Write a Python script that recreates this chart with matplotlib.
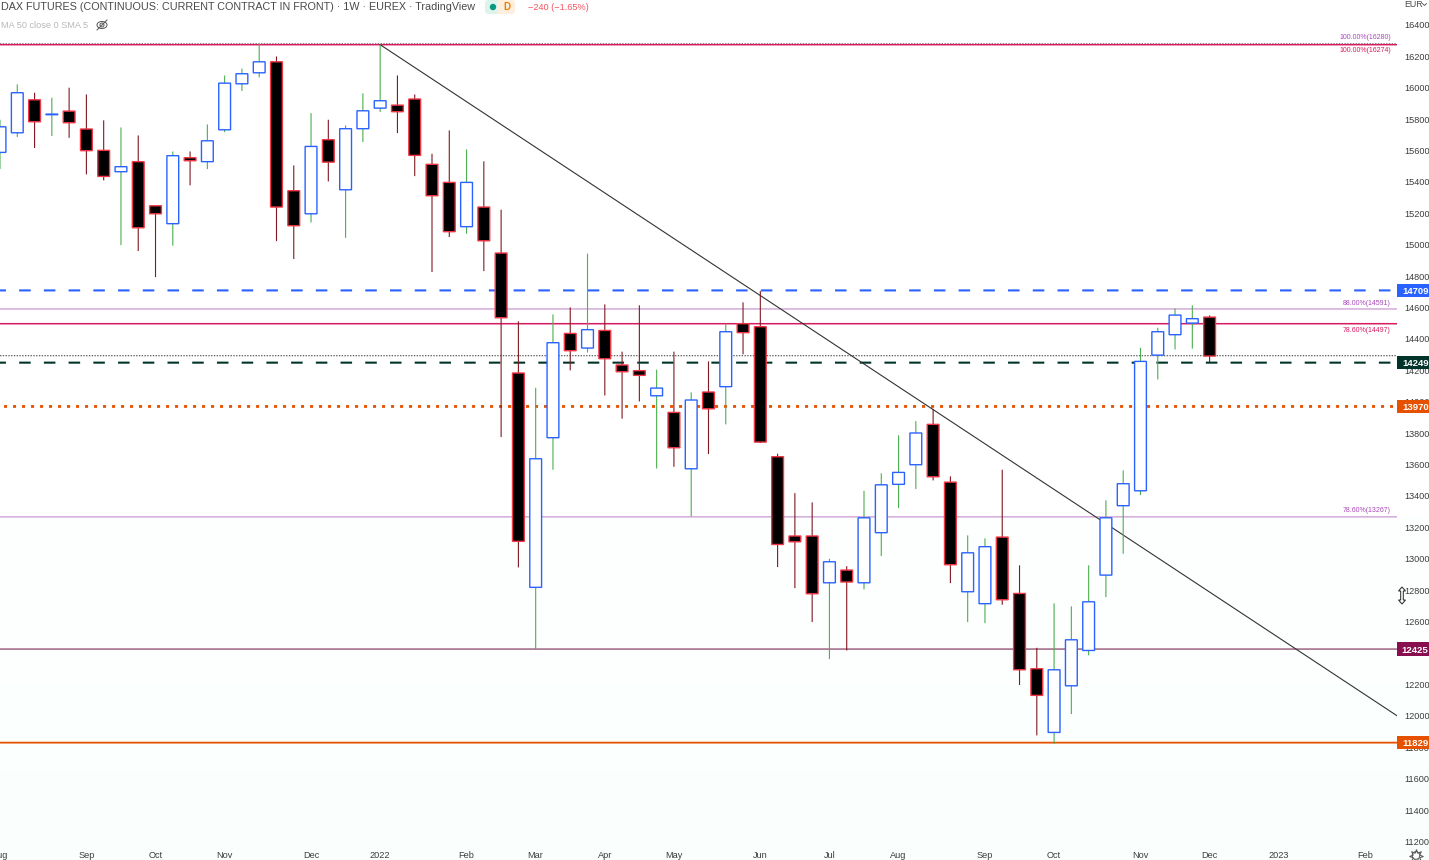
import matplotlib
matplotlib.use('Agg')
import matplotlib.pyplot as plt
import numpy as np
from matplotlib.colors import LinearSegmentedColormap
from matplotlib.patches import Rectangle, FancyBboxPatch, Ellipse, Circle, Polygon

plt.rcParams['font.family'] = ['Liberation Sans', 'DejaVu Sans']
plt.rcParams['lines.scale_dashes'] = False

# weekly candles, one entry per week
opens = [15588, 15713, 15923, 15828, 15851, 15737, 15601, 15465, 15529, 15248,
         15134, 15554, 15529, 15732, 16025, 16095, 16165, 15344, 15197, 15669,
         15350, 15739, 15870, 15889, 15928, 15512, 15397, 15115, 15240, 14947,
         14183, 12818, 13771, 14435, 14342, 14454, 14234, 14198, 14038, 13932,
         13573, 14062, 14096, 14497, 14478, 13650, 13145, 13145, 12847, 12928,
         12847, 13166, 13474, 13599, 13856, 13488, 12790, 12714, 13138, 12779,
         12300, 11894, 12191, 12416, 12896, 13338, 13433, 14297, 14427, 14501,
         14539]
highs = [15796, 16021, 15968, 15936, 16000, 15957, 15792, 15747, 15696, 15248,
         15594, 15594, 15766, 16078, 16121, 16280, 16199, 15505, 15838, 15796,
         15760, 15964, 16274, 16078, 15957, 15579, 15728, 15607, 15531, 15223,
         14512, 14089, 14556, 14601, 14943, 14620, 14319, 14614, 14204, 14319,
         14060, 14257, 14497, 14633, 14705, 13669, 13418, 13359, 13000, 12953,
         13433, 13544, 13786, 13877, 13955, 13525, 13149, 13130, 13567, 12958,
         12433, 12716, 12697, 12958, 13372, 13563, 14344, 14471, 14594, 14614,
         14550]
lows = [15482, 15686, 15616, 15692, 15681, 15448, 15410, 14998, 14960, 14794,
        14994, 15378, 15482, 15717, 15979, 16066, 15023, 14909, 15142, 15403,
        15044, 15654, 15845, 15711, 15437, 14826, 15049, 15070, 14832, 13775,
        12945, 12425, 13567, 14200, 14314, 14040, 13892, 14002, 13575, 13586,
        13270, 13667, 13856, 14302, 13737, 12947, 12813, 12597, 12361, 12416,
        12805, 13017, 13323, 13444, 13499, 12845, 12597, 12590, 12707, 12196,
        11875, 11822, 12011, 12385, 12756, 13032, 13406, 14142, 14333, 14338,
        14251]
closes = [15751, 15968, 15783, 15832, 15777, 15599, 15435, 15497, 15108, 15197,
          15567, 15535, 15662, 16029, 16089, 16165, 15240, 15121, 15626, 15526,
          15739, 15853, 15917, 15847, 15569, 15312, 15083, 15397, 15025, 14535,
          13111, 13637, 14376, 14325, 14459, 14274, 14191, 14168, 14087, 13707,
          14011, 13955, 14446, 14440, 13743, 13091, 13108, 12777, 12981, 12852,
          13261, 13471, 13550, 13801, 13522, 12962, 13038, 13077, 12739, 12293,
          12130, 12293, 12484, 12726, 13261, 13478, 14257, 14446, 14552, 14529,
          14291]

month_pos = [0, 5, 9, 13, 18, 22, 27, 31, 35, 39, 44, 48, 52, 57, 61, 66, 70, 74, 79]
month_labels = ['Aug', 'Sep', 'Oct', 'Nov', 'Dec', '2022', 'Feb', 'Mar', 'Apr', 'May',
                'Jun', 'Jul', 'Aug', 'Sep', 'Oct', 'Nov', 'Dec', '2023', 'Feb']
price_ticks = list(range(11200, 16600, 200))

trend_x = [22, 80.85]
trend_y = [16274, 12000]

fib_levels = [16280, 16274, 14591, 14497, 13267]
fib_names = ['100.00%(16280)', '100.00%(16274)', '88.00%(14591)', '78.60%(14497)', '78.60%(13267)']

tags = [14709, 14249, 13970, 12425, 11829]
tag_colors = ['#2962ff', '#00332a', '#e65100', '#880e4f', '#e65100']

W, H = 1429, 860
fig = plt.figure(figsize=(W / 100, H / 100), dpi=100, facecolor='white')

# faint background fade
bg = fig.add_axes([0, 0, 1, 1], zorder=-1)
fade = LinearSegmentedColormap.from_list('fade', ['#ffffff', '#ffffff', '#fafffe'])
bg.imshow(np.linspace(0, 1, 200).reshape(-1, 1), aspect='auto', cmap=fade)
bg.axis('off')

px_right, px_bottom = 1397, 846
ax = fig.add_axes([0, 1 - px_bottom / H, px_right / W, px_bottom / H])
ax.patch.set_visible(False)
for s in ax.spines.values():
    s.set_visible(False)

per_px = 200 / 31.404
ax.set_xlim(0, 1397 / 17.28)
ax.set_ylim(16400 - (846 - 24.9) * per_px, 16400 + 24.9 * per_px)


def hline(price, **kw):
    ln = ax.axhline(price, **kw)
    ln.set_snap(False)
    return ln


hline(16280, color='#555555', lw=0.6, ls=(0, (1.0, 1.0)), zorder=1)
hline(16274, color='#d81b60', lw=1.1, zorder=1.1)
hline(14709, color='#2962ff', lw=1.5, ls=(4.0, (8.3, 9.5)), zorder=1)
hline(14591, color='#cfa3d6', lw=1.0, zorder=1)
hline(14497, color='#d81b60', lw=1.1, zorder=1)
hline(14293, color='#333333', lw=0.7, ls=(0, (1.0, 1.0)), zorder=1)
hline(14249, color='#00332a', lw=1.5, ls=(4.0, (8.3, 9.5)), zorder=1)
hline(13970, color='#e65100', lw=2.0, ls=(-2.9, (2.2, 4.28)), zorder=1)
hline(13267, color='#cfa3d6', lw=1.0, zorder=1)
hline(12425, color='#7b2a55', lw=0.8, zorder=1)
hline(11829, color='#e65100', lw=1.3, zorder=1)

ax.plot(trend_x, trend_y, color='#333333', lw=0.8, zorder=2)

# candles sit on top of every drawing
for i in range(len(opens)):
    up = closes[i] >= opens[i]
    wick = ax.vlines(i, lows[i], highs[i], color='#4caf50' if up else '#801922', lw=0.8, zorder=3)
    wick.set_snap(False)
    bottom = min(opens[i], closes[i])
    height = abs(closes[i] - opens[i])
    bar = ax.bar(i, height, width=11.8 / 17.28, bottom=bottom,
                 facecolor='white' if up else 'black',
                 edgecolor='#2962ff' if up else '#f23645', linewidth=1.0, zorder=4)
    bar[0].set_snap(False)

ax.set_xticks(month_pos)
ax.set_xticklabels(month_labels)
ax.yaxis.tick_right()
ax.set_yticks(price_ticks)
ax.tick_params(axis='both', length=0, labelsize=6.6, labelcolor='#3c3c3c')
ax.tick_params(axis='x', pad=3.8)
ax.tick_params(axis='y', pad=5.4)

# price tags on the scale
yt = ax.get_yaxis_transform()
for v, c in zip(tags, tag_colors):
    ax.add_patch(Rectangle((1, v - 42), 32 / 1397, 84, transform=yt, facecolor=c,
                           edgecolor='none', clip_on=False, zorder=8))
    ax.text(1 + 31.5 / 1397, v, str(v), transform=yt, ha='right', va='center_baseline',
            color='white', fontsize=6.8, fontweight='bold', clip_on=False, zorder=9)

label_x = 1 - 6 / 1397
label_offs = [6 * per_px, -6 * per_px, 5.5 * per_px, -6.5 * per_px, 6 * per_px]
label_cols = ['#ab47bc', '#d81b60', '#ab47bc', '#d81b60', '#ab47bc']
for v, name, off, c in zip(fib_levels, fib_names, label_offs, label_cols):
    ax.text(label_x, v + off, name, transform=yt, ha='right', va='center',
            fontsize=5.0, color=c, zorder=6)

# header and small chart furniture, in pixel coordinates
top = fig.add_axes([0, 0, 1, 1], zorder=5)
top.set_xlim(0, W)
top.set_ylim(H, 0)
top.axis('off')
top.patch.set_visible(False)

top.text(1, 7, 'DAX FUTURES (CONTINUOUS: CURRENT CONTRACT IN FRONT) · 1W · EUREX · TradingView',
         fontsize=7.75, color='#4a4a4a', ha='left', va='center')
top.text(1, 25, 'MA 50 close 0 SMA 5', fontsize=6.6, color='#b8b8b8', ha='left', va='center')

top.add_patch(Ellipse((102, 25), 10, 7, facecolor='none', edgecolor='#555555', lw=0.7))
top.add_patch(Circle((102, 25), 2, facecolor='none', edgecolor='#555555', lw=0.7))
top.plot([97, 107], [30, 20], color='#555555', lw=0.7)

top.add_patch(FancyBboxPatch((488, 3), 12, 8, boxstyle='round,pad=3', facecolor='#dff3ed', edgecolor='none'))
top.add_patch(FancyBboxPatch((500, 3), 12, 8, boxstyle='round,pad=3', facecolor='#fdeedd', edgecolor='none'))
top.add_patch(Rectangle((500, 0), 6, 14, facecolor='#fdeedd', edgecolor='none'))
top.add_patch(Circle((493, 7), 3.2, facecolor='#089981', edgecolor='none'))
top.text(507, 7, 'D', fontsize=7, color='#f57c00', ha='center', va='center', fontweight='bold')
top.text(528, 7.5, '−240 (−1.65%)', fontsize=6.6, color='#f7525f', ha='left', va='center')

top.text(1404, 4.5, 'EUR', fontsize=6.4, color='#4a4a4a', ha='left', va='center')
top.plot([1422.5, 1424.5, 1426.5], [3.5, 5.5, 3.5], color='#4a4a4a', lw=0.6)

# resize cursor over the price scale
top.add_patch(Polygon([(1402, 587), (1405.5, 591), (1403.3, 591), (1403.3, 600), (1405.5, 600),
                       (1402, 604), (1398.5, 600), (1400.7, 600), (1400.7, 591), (1398.5, 591)],
                      facecolor='white', edgecolor='#222222', lw=0.7))

# settings gear
top.plot([1416], [855.5], marker=(8, 1, 0), ms=10, mfc='none', mec='#555555', mew=0.7, clip_on=False)
top.add_patch(Circle((1416, 855.5), 3.8, facecolor='white', edgecolor='#555555', lw=0.7))

fig.savefig('out.png', dpi=100)
